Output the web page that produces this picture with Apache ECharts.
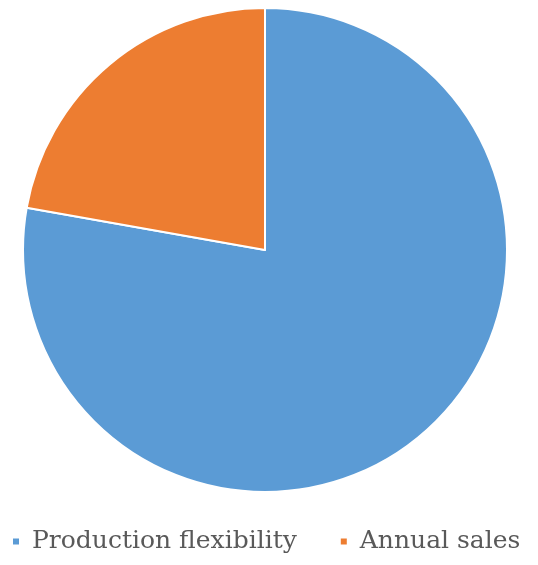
<!DOCTYPE html>
<html>
<head>
<meta charset="utf-8">
<script src="https://cdn.jsdelivr.net/npm/echarts@6/dist/echarts.min.js"></script>
<style>
  html, body { margin: 0; padding: 0; background: #ffffff; }
  #chart { width: 538px; height: 565px; }
</style>
</head>
<body>
<div id="chart"></div>
<script>
// Share of each factor
const categories = ['Production flexibility', 'Annual sales'];
const values = [77.8, 22.2];
const colors = ['#5B9BD5', '#ED7D31'];

const chart = echarts.init(document.getElementById('chart'), null, { renderer: 'canvas' });

chart.setOption({
  animation: false,
  color: colors,
  legend: {
    data: categories,
    bottom: 6,
    left: 6,
    icon: 'rect',
    itemWidth: 8,
    itemHeight: 8,
    itemGap: 42,
    textStyle: {
      fontFamily: 'DejaVu Serif',
      fontSize: 25,
      color: '#595959',
      padding: [0, 0, 0, 7]
    }
  },
  series: [{
    type: 'pie',
    center: [265, 250],
    radius: [0, 242],
    startAngle: 90,
    clockwise: true,
    label: { show: false },
    labelLine: { show: false },
    itemStyle: { borderColor: '#ffffff', borderWidth: 2 },
    emphasis: { disabled: true },
    data: categories.map((name, i) => ({ name, value: values[i] }))
  }]
});
</script>
</body>
</html>
